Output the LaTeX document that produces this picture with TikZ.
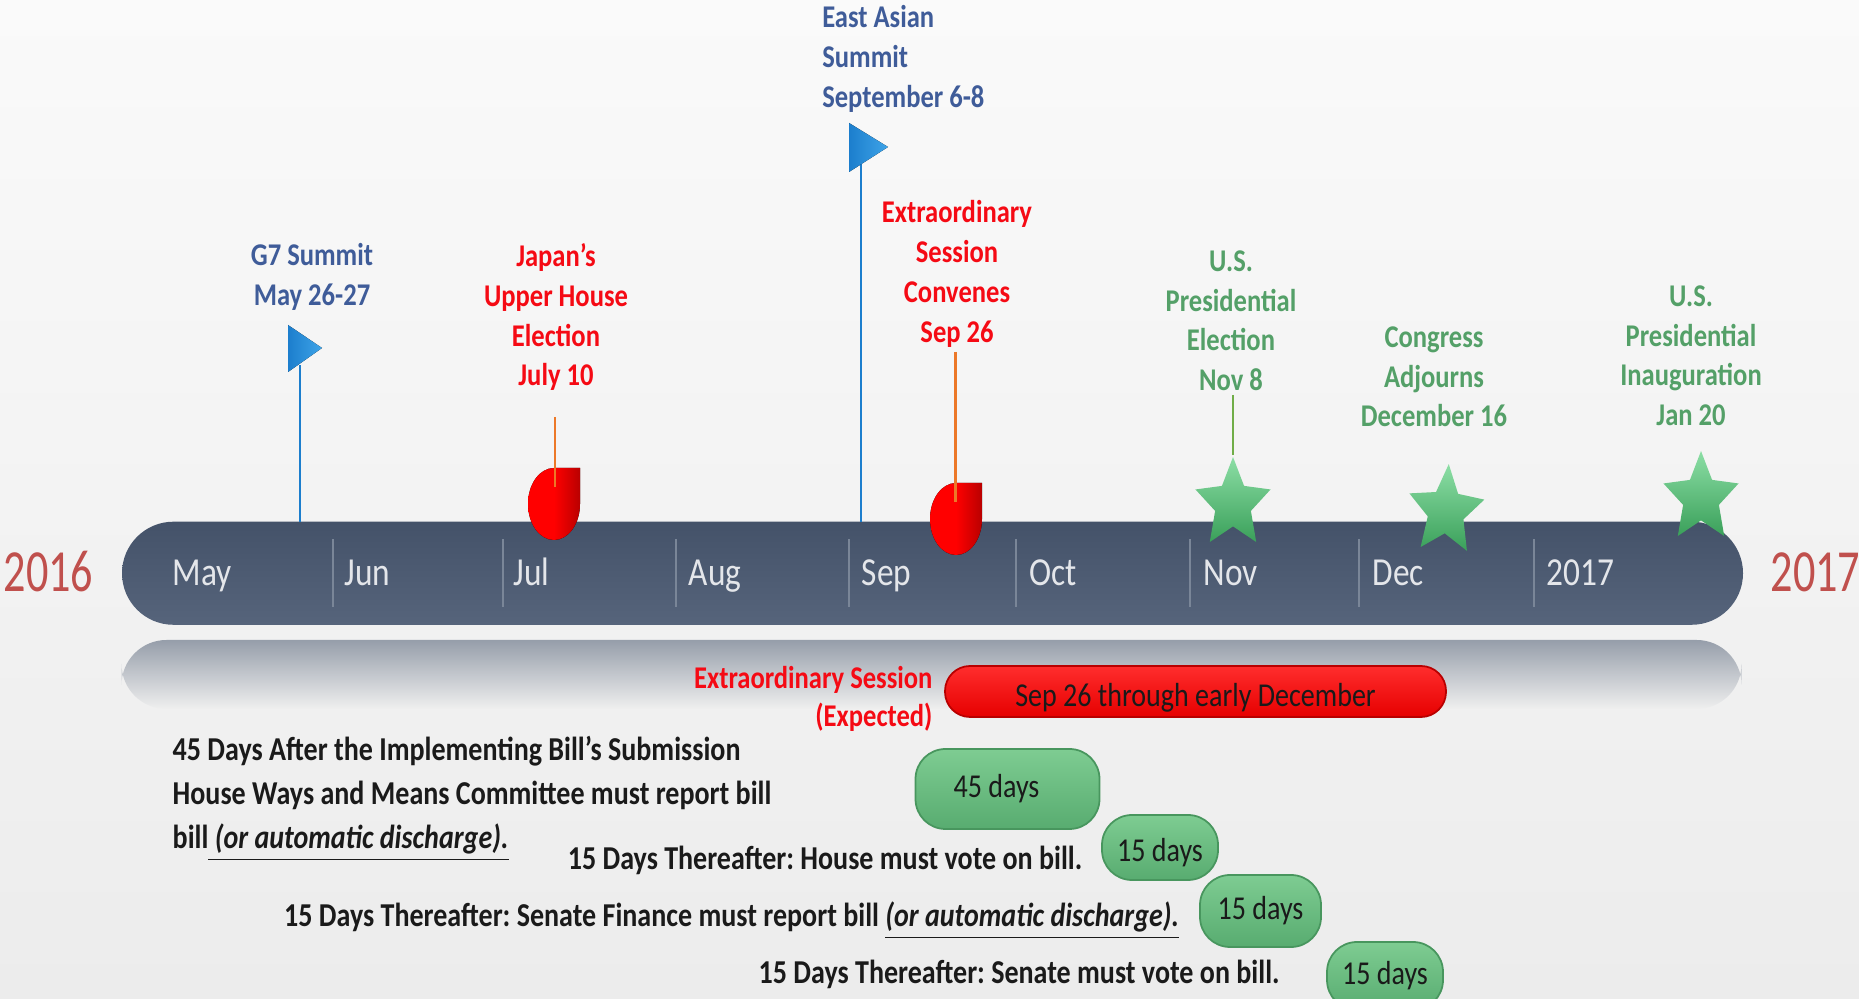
\documentclass[tikz,border=0pt]{standalone}
\usepackage{fontspec}
\setmainfont[FakeStretch=0.84]{Carlito}
\newfontfamily\yearfont[FakeStretch=0.74]{Carlito}
\frenchspacing
\usetikzlibrary{positioning}
\usetikzlibrary{calc}
\usetikzlibrary{shapes.geometric}
\usetikzlibrary{fadings}
\definecolor{bgtop}{RGB}{250,250,250}
\definecolor{bgbot}{RGB}{236,236,236}
\definecolor{bartop}{RGB}{68,82,105}
\definecolor{barbot}{RGB}{86,100,123}
\definecolor{reflgray}{RGB}{150,158,170}
\definecolor{sepgray}{RGB}{122,134,152}
\definecolor{monthgray}{RGB}{228,230,234}
\definecolor{yearred}{RGB}{192,80,77}
\definecolor{evblue}{RGB}{63,92,153}
\definecolor{evred}{RGB}{245,10,20}
\definecolor{evgreen}{RGB}{84,160,104}
\definecolor{flagblue}{RGB}{28,126,205}
\definecolor{flaglight}{RGB}{62,164,232}
\definecolor{stemorange}{RGB}{236,120,40}
\definecolor{stemgreen}{RGB}{112,173,71}
\definecolor{dropdark}{RGB}{185,0,0}
\definecolor{pilltop}{RGB}{126,204,146}
\definecolor{pillbot}{RGB}{88,172,112}
\definecolor{pillline}{RGB}{72,150,94}
\definecolor{startop}{RGB}{140,222,165}
\definecolor{starbot}{RGB}{58,160,90}
\definecolor{inkblack}{RGB}{26,26,26}
\tikzset{
  month/.style={text=monthgray,font=\fontsize{11.3}{13}\selectfont,inner sep=0,anchor=base west},
  year/.style={text=yearred,font=\yearfont\fontsize{17}{19}\selectfont,inner sep=0,anchor=base west},
  evlabel/.style={font=\bfseries\fontsize{9}{11.3}\selectfont,inner sep=0,align=center,anchor=north},
  bodytext/.style={text=inkblack,font=\bfseries\fontsize{9.5}{12.5}\selectfont,inner sep=0},
  sep/.style={sepgray,line width=0.5pt},
  bluepole/.style={flagblue,line width=0.6pt},
  stem/.style={stemorange,line width=0.8pt},
  pennant/.style={left color=flagblue,right color=flaglight},
  drop/.style={left color=red,right color=dropdark,middle color=red},
  starmark/.style={star,star points=5,star point ratio=2.1,minimum size=0.94cm,inner sep=0,
    top color=startop,bottom color=starbot,xscale=0.84,transform shape},
  pill/.style={draw=pillline,line width=0.5pt,top color=pilltop,bottom color=pillbot,
    rounded corners=0.3cm,inner sep=0,text=inkblack,font=\fontsize{9.5}{11}\selectfont},
  sessbar/.style={draw=dropdark,line width=0.5pt,top color={rgb,255:red,255;green,45;blue,45},bottom color={rgb,255:red,230;green,0;blue,0},
    rounded corners=0.25cm,inner sep=0,text=inkblack,font=\fontsize{9.5}{11}\selectfont,
    minimum width=5.01cm,minimum height=0.51cm}
}

\begin{document}
\begin{tikzpicture}
    \useasboundingbox (0,0) rectangle (18.59,9.99);
    \shade [top color=bgtop, bottom color=bgbot] (0,0) rectangle (18.59,9.99);

    % reflection and bar
    \fill [reflgray, path fading=south, rounded corners=0.45cm] (1.22,2.9) rectangle (17.43,3.59);
    \node [top color=bartop, bottom color=barbot, rounded corners=0.515cm, minimum width=16.21cm, minimum height=1.031cm, inner sep=0] (bar) at (9.325,4.2575) {};

    \foreach \x in {3.332,5.027,6.758,8.489,10.161,11.903,13.587,15.342}
        \draw [sep] (\x,3.92) -- (\x,4.596);
    \foreach \m/\x in {May/1.72,Jun/3.44,Jul/5.13,Aug/6.88,Sep/8.61,Oct/10.29,Nov/12.03,Dec/13.72,2017/15.46}
        \node [month] (m_\m) at (\x,4.13) {\m};

    \node [year] (y2016) at (0.03,4.07) {2016};
    \node [year] (y2017) at (17.70,4.07) {2017};

    % event labels
    \node [evlabel, text=evblue] (g7_lab) at (3.12,7.56) {G7 Summit\\May 26-27};
    \node [evlabel, text=evblue, anchor=north west, align=left] (eas_lab) at (8.216,9.94) {East Asian\\Summit\\September 6-8};
    \node [evlabel, text=evred] (jpn_lab) at (5.56,7.56) {Japan’s\\Upper House\\Election\\July 10};
    \node [evlabel, text=evred] (ext_lab) at (9.57,7.99) {Extraordinary\\Session\\Convenes\\Sep 26};
    \node [evlabel, text=evgreen] (nov_lab) at (12.31,7.49) {U.S.\\Presidential\\Election\\Nov 8};
    \node [evlabel, text=evgreen] (dec_lab) at (14.34,6.73) {Congress\\Adjourns\\December 16};
    \node [evlabel, text=evgreen] (jan_lab) at (16.91,7.14) {U.S.\\Presidential\\Inauguration\\Jan 20};

    % flags
    \coordinate (g7_base) at (3.00,4.77);
    \coordinate (g7_top) at (3.00,6.34);
    \coordinate (eas_base) at (8.606,4.77);
    \coordinate (eas_top) at (8.606,8.35);
    \draw [bluepole] (g7_base) -- (g7_top);
    \draw [bluepole] (eas_base) -- (eas_top);
    \fill [pennant] ($(g7_top)+(-0.12,0.40)$) -- ++(0.34,-0.23) -- ++(-0.34,-0.24) -- cycle;
    \fill [pennant] ($(eas_top)+(-0.116,0.41)$) -- ++(0.39,-0.24) -- ++(-0.39,-0.25) -- cycle;

    % drops
    \coordinate (jpn_stem) at (5.55,5.82);
    \coordinate (jpn_pin) at (5.55,5.12);
    \coordinate (ext_stem) at (9.556,6.47);
    \coordinate (ext_pin) at (9.556,4.97);
    \foreach \x/\y in {5.54/5.31,9.56/5.16}
        \fill [drop] (\x+0.26,\y) -- (\x,\y) arc[start angle=90,end angle=360,x radius=0.26,y radius=0.36] -- cycle;
    \draw [stem, line width=0.6pt] (jpn_stem) -- (jpn_pin);
    \draw [stem] (ext_stem) -- (ext_pin);

    % stars
    \coordinate (nov_stem) at (12.33,6.04);
    \node [starmark] (nov_star) at (12.33,4.95) {};
    \node [starmark, rotate=-4] (dec_star) at (14.46,4.88) {};
    \node [starmark] (jan_star) at (17.01,5.01) {};
    \draw [stemgreen, line width=0.6pt] (nov_stem) -- (nov_star.north);

    % extraordinary session
    \node [sessbar] (sess_bar) at (11.955,3.075) {\raisebox{-0.6mm}[\height][\depth]{Sep 26 through early December}};
    \node [evlabel, text=evred, align=right, anchor=east, left=0.11cm of sess_bar, yshift=-0.07cm, font=\bfseries\fontsize{9}{10.8}\selectfont] (sess_lab) {Extraordinary Session\\(Expected)};

    % fast track steps
    \node [pill, minimum width=1.84cm, minimum height=0.80cm] (p45) at (10.075,2.10) {45 days\kern0.22cm};
    \node [pill, minimum width=1.16cm, minimum height=0.65cm] (p15a) at (11.60,1.515) {\raisebox{-0.5mm}[\height][\depth]{15 days}};
    \node [pill, minimum width=1.21cm, minimum height=0.72cm] (p15b) at (12.605,0.88) {15 days};
    \node [pill, minimum width=1.16cm, minimum height=0.68cm] (p15c) at (13.85,0.23) {15 days};

    \node [bodytext, anchor=north west, align=left] (wm_lab) at (1.72,2.63) {45 Days After the Implementing Bill’s Submission\\House Ways and Means Committee must report bill\\bill\underline{\ \textit{(or automatic discharge).}}};
    \node [bodytext, anchor=base east] (house_lab) at (10.83,1.29) {15 Days Thereafter: House must vote on bill.};
    \node [bodytext, anchor=base west] (sfin_lab) at (2.835,0.72) {15 Days Thereafter: Senate Finance must report bill \underline{\textit{(or automatic discharge).}}};
    \node [bodytext, anchor=base west] (svote_lab) at (7.58,0.15) {15 Days Thereafter: Senate must vote on bill.};

\end{tikzpicture}
\end{document}
